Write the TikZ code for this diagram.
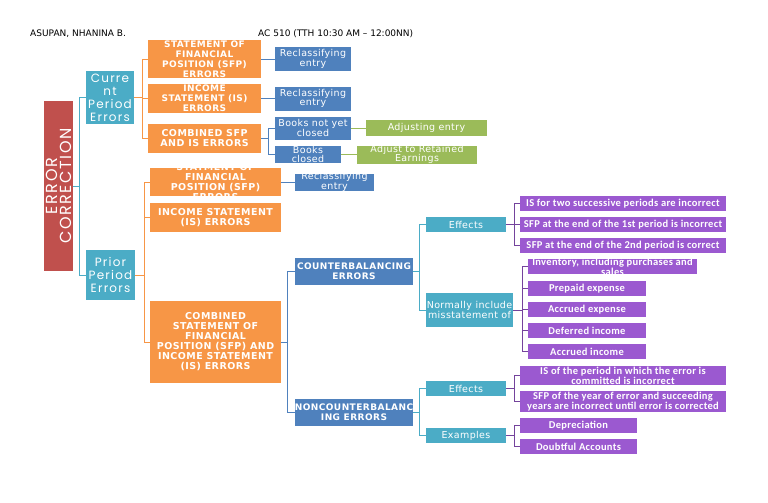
\documentclass[tikz,border=0pt]{standalone}
\usepackage{fontspec}
\setmainfont{DejaVu Sans}
\newfontfamily\popfont[LetterSpace=10]{Poppins}
\newfontfamily\capfont[LetterSpace=5]{DejaVu Sans}
\newfontfamily\lblfont[LetterSpace=4]{DejaVu Sans}
\newfontfamily\calfont[LetterSpace=3]{Carlito}
\usepackage{tikz}
\usepackage{xcolor}
\definecolor{erred}{RGB}{192, 80, 77}
\definecolor{erteal}{RGB}{75, 172, 198}
\definecolor{erorange}{RGB}{247, 150, 70}
\definecolor{erblue}{RGB}{79, 129, 189}
\definecolor{ergreen}{RGB}{155, 187, 89}
\definecolor{erpurple}{RGB}{155, 89, 208}

\begin{document}
\begin{tikzpicture}[x=1pt, y=-1pt,
  bx/.style 2 args={minimum width=#1pt, minimum height=#2pt, inner sep=0pt, outer sep=0pt},
  txt/.style={text=white, align=center, inner sep=0pt},
  roottx/.style={txt, rotate=90, font=\popfont\fontsize{16}{14}\selectfont},
  pertx/.style={txt, font=\popfont\fontsize{12}{13}\selectfont},
  captx/.style={txt, font=\capfont\bfseries\fontsize{9}{10}\selectfont},
  bigcap/.style={txt, font=\capfont\bfseries\fontsize{9.5}{10}\selectfont},
  lbltx/.style={txt, font=\lblfont\fontsize{9.5}{9.5}\selectfont},
  purtx/.style={txt, font=\calfont\bfseries\fontsize{10.5}{10}\selectfont},
  hdr/.style={anchor=west, inner sep=0pt, font=\fontsize{9}{10}\selectfont},
  tln/.style={draw=erteal, line width=0.9pt},
  oln/.style={draw=erorange, line width=0.9pt},
  bln/.style={draw=erblue, line width=0.9pt},
  gln/.style={draw=ergreen, line width=0.9pt},
  pln/.style={draw=erpurple!75!black, line width=0.9pt},
]
  \useasboundingbox (0,0) rectangle (768,503);

  \node[hdr] (name) at (30,34) {ASUPAN, NHANINA B.};
  \node[hdr] (course) at (258,34) {AC 510 (TTH 10:30 AM – 12:00NN)};

  \node[bx={29}{170}, fill=erred, label={[roottx]center:{ERROR\\CORRECTION}}] (root) at (58.5,186) {};
  \node[bx={48}{53}, fill=erteal, label={[pertx]center:{Curre\\nt\\Period\\Errors}}] (cur) at (110,97.5) {};
  \node[bx={49}{50}, fill=erteal, label={[pertx]center:{Prior\\Period\\Errors}}] (prior) at (110.5,275) {};

  % current period
  \node[bx={113}{38}, fill=erorange, label={[captx]center:{STATEMENT OF\\FINANCIAL\\POSITION (SFP)\\ERRORS}}] (csfp) at (204.5,59) {};
  \node[bx={113}{29}, fill=erorange, label={[captx]center:{INCOME\\STATEMENT (IS)\\ERRORS}}] (cis) at (204.5,98.5) {};
  \node[bx={113}{29}, fill=erorange, label={[bigcap]center:{COMBINED SFP\\AND IS ERRORS}}] (ccomb) at (204.5,138.5) {};
  \node[bx={76}{24}, fill=erblue, label={[lbltx]center:{Reclassifying\\entry}}] (re1) at (313,59) {};
  \node[bx={76}{24}, fill=erblue, label={[lbltx]center:{Reclassifying\\entry}}] (re2) at (313,98.5) {};
  \node[bx={76}{23}, fill=erblue, label={[lbltx]center:{Books not yet\\closed}}] (bnyc) at (313,128) {};
  \node[bx={66}{17}, fill=erblue, label={[lbltx]center:{Books\\closed}}] (bc) at (308,154.5) {};
  \node[bx={121}{16}, fill=ergreen, label={[lbltx]center:{Adjusting entry}}] (adj) at (426.5,128) {};
  \node[bx={120}{18}, fill=ergreen, label={[lbltx]center:{Adjust to Retained\\Earnings}}] (adjre) at (417,154.5) {};

  % prior period
  \node[bx={131}{28}, fill=erorange, label={[bigcap]center:{STATMENT OF\\FINANCIAL\\POSITION (SFP)\\ERRORS}}] (psfp) at (215.5,182) {};
  \node[bx={131}{29}, fill=erorange, label={[bigcap]center:{INCOME STATEMENT\\(IS) ERRORS}}] (pis) at (215.5,217.5) {};
  \node[bx={131}{82}, fill=erorange, label={[bigcap]center:{COMBINED\\STATEMENT OF\\FINANCIAL\\POSITION (SFP) AND\\INCOME STATEMENT\\(IS) ERRORS}}] (pcomb) at (215.5,342) {};
  \node[bx={79}{17}, fill=erblue, label={[lbltx]center:{Reclassifying\\entry}}] (pre) at (334.5,182) {};
  \node[bx={118}{27}, fill=erblue, label={[captx]center:{COUNTERBALANCING\\ERRORS}}] (cbe) at (354,271.5) {};
  \node[bx={118}{27}, fill=erblue, label={[captx]center:{NONCOUNTERBALANC\\ING ERRORS}}] (ncbe) at (354,412.5) {};

  \node[bx={80}{15}, fill=erteal, label={[lbltx]center:{Effects}}] (eff1) at (466,224.5) {};
  \node[bx={87}{34}, fill=erteal, label={[lbltx]center:{Normally include\\misstatement of}}] (norm) at (469.5,310) {};
  \node[bx={80}{15}, fill=erteal, label={[lbltx]center:{Effects}}] (eff2) at (466,388.5) {};
  \node[bx={80}{15}, fill=erteal, label={[lbltx]center:{Examples}}] (exa) at (466,435.5) {};

  \node[bx={206}{15}, fill=erpurple, label={[purtx]center:{IS for two successive periods are incorrect}}] (e1a) at (623,203.5) {};
  \node[bx={206}{15}, fill=erpurple, label={[purtx]center:{SFP at the end of the 1st period is incorrect}}] (e1b) at (623,224.5) {};
  \node[bx={206}{15}, fill=erpurple, label={[purtx]center:{SFP at the end of the 2nd period is correct}}] (e1c) at (623,245.5) {};
  \node[bx={169}{15}, fill=erpurple, label={[purtx]center:{Inventory, including purchases and\\sales}}] (n1) at (612.5,266.5) {};
  \node[bx={118}{15}, fill=erpurple, label={[purtx]center:{Prepaid expense}}] (n2) at (587,288.5) {};
  \node[bx={118}{15}, fill=erpurple, label={[purtx]center:{Accrued expense}}] (n3) at (587,309.5) {};
  \node[bx={118}{15}, fill=erpurple, label={[purtx]center:{Deferred income}}] (n4) at (587,330.5) {};
  \node[bx={118}{15}, fill=erpurple, label={[purtx]center:{Accrued income}}] (n5) at (587,351.5) {};
  \node[bx={206}{19}, fill=erpurple, label={[purtx]center:{IS of the period in which the error is\\committed is incorrect}}] (e2a) at (623,375.5) {};
  \node[bx={206}{21}, fill=erpurple, label={[purtx]center:{SFP of the year of error and succeeding\\years are incorrect until error is corrected}}] (e2b) at (623,401.5) {};
  \node[bx={117}{15}, fill=erpurple, label={[purtx]center:{Depreciation}}] (x1) at (578.5,425.5) {};
  \node[bx={117}{15}, fill=erpurple, label={[purtx]center:{Doubtful Accounts}}] (x2) at (578.5,446.5) {};

  % brackets
  \draw[tln] (root.east) -- ++(6,0) |- (cur.west);
  \draw[tln] (root.east) -- ++(6,0) |- (prior.west);
  \foreach \c in {csfp, cis, ccomb} \draw[oln] (cur.east) -- ++(8,0) |- (\c.west);
  \draw[bln] (csfp.east) -- (re1.west);
  \draw[bln] (cis.east) -- (re2.west);
  \foreach \c in {bnyc, bc} \draw[bln] (ccomb.east) -- ++(7,0) |- (\c.west);
  \draw[gln] (bnyc.east) -- (adj.west);
  \draw[gln] (bc.east) -- (adjre.west);
  \foreach \c in {psfp, pis, pcomb} \draw[oln] (prior.east) -- ++(9,0) |- (\c.west);
  \draw[bln] (psfp.east) -- (pre.west);
  \foreach \c in {cbe, ncbe} \draw[bln] (pcomb.east) -- ++(6,0) |- (\c.west);
  \foreach \c in {eff1, norm} \draw[tln] (cbe.east) -- ++(6,0) |- (\c.west);
  \foreach \c in {eff2, exa} \draw[tln] (ncbe.east) -- ++(6,0) |- (\c.west);
  \foreach \c in {e1a, e1b, e1c} \draw[pln] (eff1.east) -- ++(8,0) |- (\c.west);
  \foreach \c in {n1, n2, n3, n4, n5} \draw[pln] (norm.east) -- ++(9,0) |- (\c.west);
  \foreach \c in {e2a, e2b} \draw[pln] (eff2.east) -- ++(8,0) |- (\c.west);
  \foreach \c in {x1, x2} \draw[pln] (exa.east) -- ++(8,0) |- (\c.west);
\end{tikzpicture}
\end{document}
